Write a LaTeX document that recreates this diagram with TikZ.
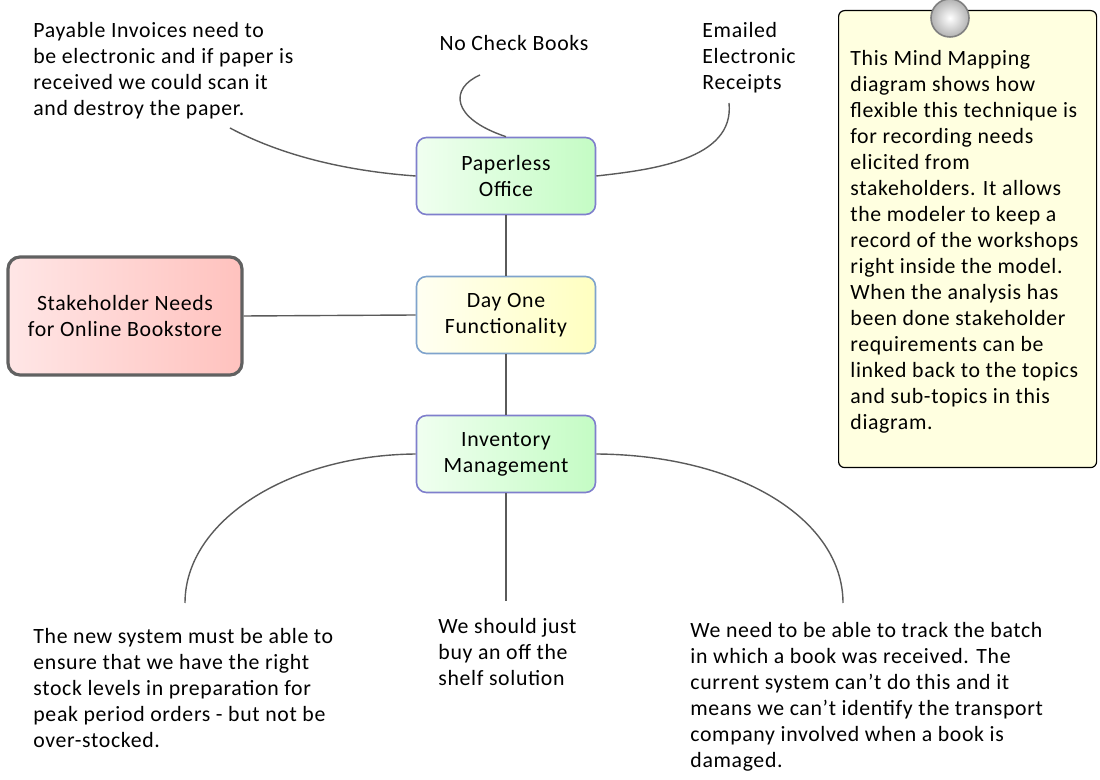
\documentclass[tikz,border=0pt]{standalone}
\usepackage{fontspec}
\setmainfont{Carlito}[LetterSpace=3]
\usetikzlibrary{positioning,calc}
\definecolor{linkGray}{HTML}{5A5A5A}
\definecolor{topicEdge}{HTML}{7F7FCC}
\definecolor{dayEdge}{HTML}{7FA3CC}
\definecolor{greenLeft}{HTML}{F0FFF0}
\definecolor{greenRight}{HTML}{C4FCC4}
\definecolor{yellowLeft}{HTML}{FFFFF2}
\definecolor{yellowRight}{HTML}{FFFFC0}
\definecolor{redLeft}{HTML}{FFE6E6}
\definecolor{redRight}{HTML}{FFC2BE}
\definecolor{noteFill}{HTML}{FFFFE0}
\newcommand{\apos}{\char"0027\relax}

\begin{document}
\begin{tikzpicture}[
  x=0.5pt, y=-0.5pt,
  font=\fontsize{10.9}{13}\selectfont,
  topic/.style={draw=topicEdge, line width=0.8pt, rounded corners=5pt,
    left color=greenLeft, right color=greenRight,
    minimum width=89.5pt, minimum height=38.5pt, align=center, inner sep=2pt},
  daytopic/.style={topic, draw=dayEdge, left color=yellowLeft, right color=yellowRight},
  root/.style={draw=black!62, line width=1.6pt, rounded corners=6pt,
    left color=redLeft, right color=redRight,
    minimum width=117pt, minimum height=59pt, align=center},
  note/.style={draw=black, line width=0.6pt, rounded corners=3pt, fill=noteFill,
    minimum width=129pt, minimum height=228.5pt, anchor=north west},
  txt/.style={align=left, anchor=north west, inner sep=0pt},
  link/.style={draw=linkGray, line width=0.7pt}
]
\useasboundingbox (0,0) rectangle (1100,780);

% ------------------------------------------------------------------
% central topics
% ------------------------------------------------------------------
\node[topic] (paper) at (506,176) {Paperless\\Office};
\node[daytopic] (day) at (506,315) {Day One\\Functionality};
\node[topic] (inv) at (506,454) {Inventory\\Management};
\node[root] (root) at (125,316) {Stakeholder Needs\\for Online Bookstore};

\draw[link] (root.east) -- (day.west);
\draw[link] (paper.south) -- (day.north);
\draw[link] (day.south) -- (inv.north);

% ------------------------------------------------------------------
% sub-topics of Paperless Office
% ------------------------------------------------------------------
\node[txt] (payable) at (33,22) {Payable Invoices need to\\be electronic and if paper is\\received we could scan it\\and destroy the paper.};
\node[txt, anchor=north] (check) at (514,35) {No Check Books};
\node[txt] (emailed) at (702,22) {Emailed\\Electronic\\Receipts};

\coordinate (payEnd) at (230,128);
\coordinate (checkEnd) at (480,75);
\coordinate (mailEnd) at (729,103);

\draw[link] (payEnd) .. controls (290,160) and (360,172) .. (paper.west);
\draw[link] (checkEnd) .. controls (450,88) and (450,118) .. (paper.north);
\draw[link] (mailEnd) .. controls (735,160) and (650,170) .. (paper.east);

% ------------------------------------------------------------------
% sub-topics of Inventory Management
% ------------------------------------------------------------------
\node[txt] (stock) at (33,628) {The new system must be able to\\ensure that we have the right\\stock levels in preparation for\\peak period orders - but not be\\over-stocked.};
\node[txt] (shelf) at (438,618) {We should just\\buy an off the\\shelf solution};
\node[txt] (batch) at (690,622) {We need to be able to track the batch\\in which a book was received. The\\current system can\apos t do this and it\\means we can\apos t identify the transport\\company involved when a book is\\damaged.};

\coordinate (stockEnd) at (185,603);
\coordinate (shelfEnd) at (506,601);
\coordinate (batchEnd) at (843,603);

\draw[link] (inv.west) .. controls (290,455) and (185,520) .. (stockEnd);
\draw[link] (inv.south) -- (shelfEnd);
\draw[link] (inv.east) .. controls (740,455) and (843,520) .. (batchEnd);

% ------------------------------------------------------------------
% note
% ------------------------------------------------------------------
\node[note] (memo) at (838,10) {};
\node[circle, draw=black!50, line width=0.8pt, inner color=white, outer color=black!30,
  minimum size=19pt, inner sep=0pt] (pin) at (950,18) {};
\node[txt] (memotext) at (850,50) {This Mind Mapping\\diagram shows how\\flexible this technique is\\for recording needs\\elicited from\\stakeholders. It allows\\the modeler to keep a\\record of the workshops\\right inside the model.\\When the analysis has\\been done stakeholder\\requirements can be\\linked back to the topics\\and sub-topics in this\\diagram.};

\end{tikzpicture}
\end{document}
